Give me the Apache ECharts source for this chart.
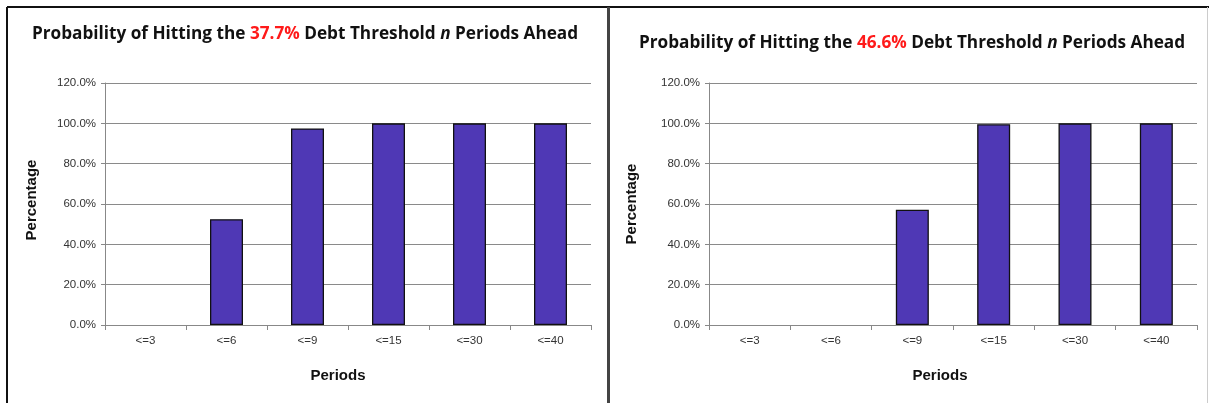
<!DOCTYPE html>
<html>
<head>
<meta charset="utf-8">
<script src="https://cdn.jsdelivr.net/npm/echarts@6/dist/echarts.min.js"></script>
<style>
  html, body { margin: 0; padding: 0; background: #fff; }
  #chart { width: 1209px; height: 403px; }
</style>
</head>
<body>
<div id="chart"></div>
<script>
// Cumulative probability of reaching a debt threshold within n periods
const periods = ['<=3', '<=6', '<=9', '<=15', '<=30', '<=40'];
const thresholdA = '37.7%';
const thresholdB = '46.6%';
const probA = [0, 52.5, 97.5, 100, 100, 100];
const probB = [0, 0, 57.2, 99.6, 100, 100];
const yTicks = { min: 0, max: 120, interval: 20 };

const chart = echarts.init(document.getElementById('chart'), null, { renderer: 'canvas' });

const labelFont = 'Liberation Sans, Arial, sans-serif';
const titleFont = 'Open Sans, Noto Sans, sans-serif';

function titleRich(th) {
  const base = { fontFamily: titleFont, fontWeight: 'bold', fontSize: 17.2, color: '#111' };
  return {
    text: '{b|Probability of Hitting the }{r|' + th + '}{b| Debt Threshold }{i|n}{b| Periods Ahead}',
    textStyle: {
      rich: {
        b: base,
        r: Object.assign({}, base, { color: '#ff1a1a' }),
        i: Object.assign({}, base, { fontStyle: 'italic' })
      }
    }
  };
}

const grids = [
  { left: 105, top: 83, width: 486, height: 242 },
  { left: 709, top: 83, width: 488, height: 242 }
];

function xAxis(i) {
  return {
    type: 'category', gridIndex: i, data: periods,
    axisLine: { lineStyle: { color: '#888', width: 1 } },
    axisTick: { show: true, length: 5, lineStyle: { color: '#888' } },
    axisLabel: { color: '#333', fontFamily: labelFont, fontSize: 11.5, margin: 10 },
    splitLine: { show: false }
  };
}
function yAxis(i) {
  return {
    type: 'value', gridIndex: i, min: yTicks.min, max: yTicks.max, interval: yTicks.interval,
    axisLine: { show: true, lineStyle: { color: '#888', width: 1 } },
    axisTick: { show: true, length: 4, lineStyle: { color: '#888' } },
    axisLabel: { color: '#333', fontFamily: labelFont, fontSize: 11.5, margin: 9,
      formatter: v => v.toFixed(1) + '%' },
    splitLine: { show: true, lineStyle: { color: '#8a8a8a', width: 1.2 } }
  };
}
function barSeries(i, data) {
  return {
    type: 'bar', xAxisIndex: i, yAxisIndex: i,
    // empty bars get no outline so nothing is drawn at zero height
    data: data.map(v => ({ value: v, itemStyle: { borderWidth: v > 0 ? 1.3 : 0 } })),
    barWidth: 33,
    itemStyle: { color: '#4f38b5', borderColor: '#111', borderWidth: 1.3 },
    silent: true
  };
}

const axisTitle = { fontFamily: labelFont, fontWeight: 'bold', fontSize: 15, fill: '#111' };

chart.setOption({
  animation: false,
  backgroundColor: '#fff',
  title: [
    Object.assign({ left: 300, top: 21, textAlign: 'center' }, titleRich(thresholdA)),
    Object.assign({ left: 907, top: 30, textAlign: 'center' }, titleRich(thresholdB))
  ],
  grid: grids,
  xAxis: [xAxis(0), xAxis(1)],
  yAxis: [yAxis(0), yAxis(1)],
  series: [barSeries(0, probA), barSeries(1, probB)],
  graphic: [
    // panel frame and divider
    { type: 'line', shape: { x1: 7, y1: 7, x2: 1209, y2: 7 }, style: { stroke: '#111', lineWidth: 2 } },
    { type: 'line', shape: { x1: 7, y1: 7, x2: 7, y2: 403 }, style: { stroke: '#111', lineWidth: 2 } },
    { type: 'line', shape: { x1: 608.5, y1: 7, x2: 608.5, y2: 403 }, style: { stroke: '#444', lineWidth: 3 } },
    { type: 'line', shape: { x1: 1207.5, y1: 7, x2: 1207.5, y2: 403 }, style: { stroke: '#ccc', lineWidth: 1 } },
    // axis titles
    { type: 'text', x: 32, y: 200, rotation: Math.PI / 2,
      style: Object.assign({ text: 'Percentage', align: 'center', verticalAlign: 'middle' }, axisTitle) },
    { type: 'text', x: 338, y: 376,
      style: Object.assign({ text: 'Periods', align: 'center', verticalAlign: 'middle' }, axisTitle) },
    { type: 'text', x: 632, y: 204, rotation: Math.PI / 2,
      style: Object.assign({ text: 'Percentage', align: 'center', verticalAlign: 'middle' }, axisTitle) },
    { type: 'text', x: 940, y: 376,
      style: Object.assign({ text: 'Periods', align: 'center', verticalAlign: 'middle' }, axisTitle) }
  ]
});
</script>
</body>
</html>
